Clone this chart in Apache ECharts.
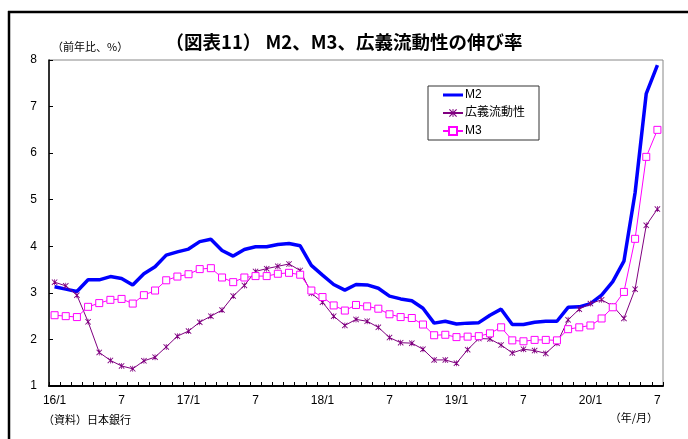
<!DOCTYPE html>
<html>
<head>
<meta charset="utf-8">
<script src="https://cdn.jsdelivr.net/npm/echarts@6/dist/echarts.min.js"></script>
<style>
  html, body { margin: 0; padding: 0; background: #fff; overflow: hidden; }
  #chart { width: 688px; height: 439px; }
</style>
</head>
<body>
<div id="chart"></div>
<script>
// Monthly categories, 2016/1 – 2020/7
const months = [
  '16/1','2','3','4','5','6','7','8','9','10','11','12',
  '17/1','2','3','4','5','6','7','8','9','10','11','12',
  '18/1','2','3','4','5','6','7','8','9','10','11','12',
  '19/1','2','3','4','5','6','7','8','9','10','11','12',
  '20/1','2','3','4','5','6','7'
];

// Year-on-year growth, %
const m2 = [
  3.13, 3.08, 3.03, 3.28, 3.28, 3.35, 3.31, 3.17, 3.41, 3.56, 3.81, 3.88,
  3.94, 4.10, 4.15, 3.91, 3.79, 3.93, 3.99, 3.99, 4.04, 4.06, 4.01, 3.59,
  3.38, 3.18, 3.06, 3.18, 3.17, 3.10, 2.93, 2.87, 2.83, 2.67, 2.35, 2.39,
  2.33, 2.35, 2.36, 2.52, 2.65, 2.32, 2.32, 2.37, 2.39, 2.39, 2.69, 2.70,
  2.77, 2.95, 3.24, 3.68, 5.15, 7.28, 7.89
];

const broadLiquidity = [
  3.23, 3.15, 2.95, 2.38, 1.72, 1.55, 1.43, 1.37, 1.54, 1.62, 1.84, 2.07,
  2.18, 2.37, 2.50, 2.63, 2.93, 3.16, 3.46, 3.52, 3.57, 3.62, 3.48, 2.99,
  2.80, 2.50, 2.30, 2.43, 2.39, 2.26, 2.04, 1.93, 1.92, 1.79, 1.56, 1.56,
  1.49, 1.78, 2.02, 2.01, 1.88, 1.71, 1.79, 1.76, 1.70, 1.92, 2.42, 2.65,
  2.77, 2.85, 2.72, 2.45, 3.08, 4.45, 4.80
];

const m3 = [
  2.52, 2.50, 2.48, 2.70, 2.78, 2.85, 2.87, 2.77, 2.95, 3.05, 3.27, 3.35,
  3.40, 3.51, 3.53, 3.33, 3.23, 3.33, 3.36, 3.36, 3.41, 3.43, 3.39, 3.05,
  2.91, 2.73, 2.62, 2.74, 2.71, 2.66, 2.54, 2.48, 2.46, 2.32, 2.09, 2.10,
  2.05, 2.06, 2.07, 2.13, 2.26, 1.98, 1.96, 1.99, 1.99, 1.98, 2.22, 2.26,
  2.30, 2.45, 2.69, 3.02, 4.16, 5.92, 6.50
];

const yTicks = { min: 1, max: 8, step: 1 };

const FONT = "'Liberation Sans Narrow', 'Liberation Sans', 'Noto Sans CJK JP', sans-serif";
const CJK = "'Noto Sans CJK JP', sans-serif";

// asterisk-like marker: an X with a vertical bar
const starPath = 'path://M0,1L1,0L5,4L9,0L10,1L6,5L10,9L9,10L5,6L1,10L0,9L4,5Z M4.4,0L5.6,0L5.6,10L4.4,10Z';
// plain line legend icon (tiny corner specks keep the 20x10 box)
const lineIcon = 'path://M0,0L0.01,0L0,0.01Z M0,3.6L20,3.6L20,6.4L0,6.4Z M20,10L19.99,10L20,9.99Z';

const chart = echarts.init(document.getElementById('chart'), null, { renderer: 'canvas' });

chart.setOption({
  animation: false,
  backgroundColor: '#fff',
  textStyle: { fontFamily: FONT },
  graphic: [
    { type: 'line', shape: { x1: 8, y1: 12, x2: 688, y2: 12 },
      style: { stroke: '#000', lineWidth: 2.5 }, silent: true },
    { type: 'line', shape: { x1: 9, y1: 11, x2: 9, y2: 439 },
      style: { stroke: '#000', lineWidth: 2.5 }, silent: true },
    { type: 'text', left: 'center', top: 33,
      style: { text: '（図表11） M2、M3、広義流動性の伸び率', fill: '#000',
               font: 'bold 18.5px ' + CJK } },
    { type: 'text', left: 52, top: 41,
      style: { text: '（前年比、%）', fill: '#000', font: '11px ' + CJK } },
    { type: 'text', left: 43, top: 414,
      style: { text: '（資料）日本銀行', fill: '#000', font: '11px ' + CJK } },
    { type: 'text', right: 30, top: 412,
      style: { text: '（年/月）', fill: '#000', font: '11px ' + CJK } }
  ],
  legend: {
    orient: 'vertical',
    left: 428,
    top: 86,
    padding: [2, 14, 2, 14],
    itemWidth: 20,
    itemHeight: 10,
    itemGap: 4,
    borderColor: '#333',
    borderWidth: 1,
    backgroundColor: '#fff',
    textStyle: { fontSize: 12, lineHeight: 14, color: '#000', fontFamily: FONT + ", " + CJK, padding: [0, 0, 0, -3] },
    data: [
      { name: 'M2', icon: lineIcon, itemStyle: { color: '#0000ff' } },
      '広義流動性',
      'M3'
    ]
  },
  grid: {
    left: 49, right: 25, top: 60, bottom: 53,
    show: true, borderColor: '#888', borderWidth: 1, backgroundColor: 'transparent'
  },
  xAxis: {
    type: 'category',
    data: months,
    boundaryGap: true,
    axisLine: { lineStyle: { color: '#000', width: 2 } },
    axisTick: { show: true, inside: true, length: 4, interval: 0, lineStyle: { color: '#000', width: 1 } },
    axisLabel: { interval: 5, color: '#000', fontSize: 12, margin: 9, fontFamily: FONT },
    splitLine: { show: false }
  },
  yAxis: {
    type: 'value',
    min: yTicks.min, max: yTicks.max, interval: yTicks.step,
    axisLine: { show: true, lineStyle: { color: '#000', width: 1.5 } },
    axisTick: { show: true, inside: true, length: 4, lineStyle: { color: '#000' } },
    axisLabel: { color: '#000', fontSize: 12, margin: 12, fontFamily: FONT },
    splitLine: { show: false }
  },
  series: [
    {
      name: 'M2', type: 'line', data: m2,
      symbol: 'none',
      lineStyle: { color: '#0000ff', width: 3.5 },
      itemStyle: { color: '#0000ff' },
      z: 3
    },
    {
      name: '広義流動性', type: 'line', data: broadLiquidity,
      symbol: starPath, symbolSize: 6, showAllSymbol: true,
      lineStyle: { color: '#800080', width: 1 },
      itemStyle: { color: '#800080' },
      z: 4
    },
    {
      name: 'M3', type: 'line', data: m3,
      symbol: 'rect', symbolSize: 7, showAllSymbol: true,
      lineStyle: { color: '#ff00ff', width: 1 },
      itemStyle: { color: '#fff', borderColor: '#ff00ff', borderWidth: 1 },
      z: 5
    }
  ]
});
</script>
</body>
</html>
